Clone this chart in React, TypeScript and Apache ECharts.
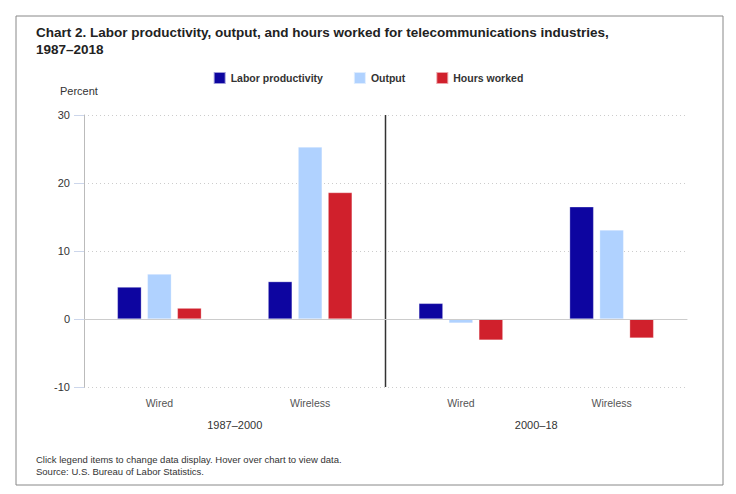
import React, { useEffect, useRef } from "react";
import * as echarts from "echarts";

const categories = ["Wired", "Wireless", "Wired", "Wireless"];
const periods = ["1987–2000", "2000–18"];
const laborProductivity = [4.7, 5.5, 2.3, 16.5];
const output = [6.6, 25.3, -0.6, 13.1];
const hoursWorked = [1.6, 18.6, -3.1, -2.8];
const yTicks = { min: -10, max: 30, interval: 10 };

export default function App() {
  const ref = useRef<HTMLDivElement>(null);
  useEffect(() => {
    if (!ref.current) return;
    const chart = echarts.init(ref.current, null, { renderer: "svg" });
    const font = "'Liberation Sans', Arial, sans-serif";
    const barCommon = {
      type: "bar",
      barWidth: 24,
      barGap: "25%",
      itemStyle: { borderColor: "rgba(255,255,255,0.6)", borderWidth: 0.5 },
    };
    const baseGraphic: any[] = [
      {
        type: "rect",
        shape: { x: 16, y: 16, width: 707, height: 469 },
        style: { fill: "none", stroke: "#888", lineWidth: 1 },
        silent: true,
      },
      {
        type: "text",
        left: 60,
        top: 85,
        style: { text: "Percent", fontSize: 11, fill: "#333", fontFamily: font },
      },
      {
        type: "text",
        left: 36,
        top: 453,
        style: {
          text: "Click legend items to change data display. Hover over chart to view data.\nSource: U.S. Bureau of Labor Statistics.",
          fontSize: 9.5,
          lineHeight: 12,
          fill: "#333",
          fontFamily: font,
        },
      },
    ];
    chart.setOption({
      animation: false,
      textStyle: { fontFamily: font },
      title: {
        text: "Chart 2. Labor productivity, output, and hours worked for telecommunications industries,\n1987–2018",
        left: 31,
        top: 19,
        textStyle: { fontSize: 13.5, fontWeight: "bold", color: "#222", lineHeight: 17, fontFamily: font },
      },
      legend: {
        top: 66,
        left: "center",
        icon: "rect",
        itemWidth: 12,
        itemHeight: 12,
        itemGap: 30,
        textStyle: { fontSize: 10.5, fontWeight: "bold", color: "#333", fontFamily: font },
        data: ["Labor productivity", "Output", "Hours worked"],
      },
      grid: { left: 84, right: 49, top: 115, bottom: 107 },
      xAxis: [
        {
          type: "category",
          data: categories,
          axisLine: { lineStyle: { color: "#c8c8c8" } },
          axisTick: { alignWithLabel: true, length: 5, lineStyle: { color: "#ccd6eb" } },
          axisLabel: { color: "#555", fontSize: 10.5, margin: 10 },
        },
        {
          type: "category",
          data: periods,
          position: "bottom",
          offset: 22,
          axisLine: { show: false },
          axisTick: { show: false },
          axisLabel: { color: "#333", fontSize: 11, margin: 10 },
        },
      ],
      yAxis: {
        type: "value",
        min: yTicks.min,
        max: yTicks.max,
        interval: yTicks.interval,
        axisLine: { show: true, lineStyle: { color: "#bbb" } },
        axisTick: { show: true, length: 10, lineStyle: { color: "#ccd6eb" } },
        axisLabel: { color: "#333", fontSize: 11, margin: 14 },
        splitLine: { lineStyle: { color: "#ccc", type: [1, 3] } },
      },
      series: [
        {
          ...barCommon,
          name: "Labor productivity",
          data: laborProductivity,
          itemStyle: { ...barCommon.itemStyle, color: "#0d05a0" },
          markLine: {
            silent: true,
            symbol: "none",
            label: { show: false },
            lineStyle: { color: "#ccc", type: "solid", width: 1 },
            data: [{ yAxis: 0 }],
          },
        },
        { ...barCommon, name: "Output", data: output, itemStyle: { ...barCommon.itemStyle, color: "#b0d2ff" } },
        { ...barCommon, name: "Hours worked", data: hoursWorked, itemStyle: { ...barCommon.itemStyle, color: "#d0202c" } },
      ],
      graphic: baseGraphic,
    });
    const x1 = chart.convertToPixel({ xAxisIndex: 0 }, 1) as number;
    const x2 = chart.convertToPixel({ xAxisIndex: 0 }, 2) as number;
    const yTop = chart.convertToPixel({ yAxisIndex: 0 }, yTicks.max) as number;
    const yBot = chart.convertToPixel({ yAxisIndex: 0 }, yTicks.min) as number;
    const xm = (x1 + x2) / 2;
    chart.setOption({
      graphic: [
        ...baseGraphic,
        {
          type: "line",
          shape: { x1: xm, y1: yTop, x2: xm, y2: yBot },
          style: { stroke: "#333", lineWidth: 1.5 },
          silent: true,
        },
      ],
    });
    return () => chart.dispose();
  }, []);
  return (
    <div
      ref={ref}
      style={{ position: "absolute", left: 0, top: 0, width: 736, height: 494 }}
    />
  );
}
